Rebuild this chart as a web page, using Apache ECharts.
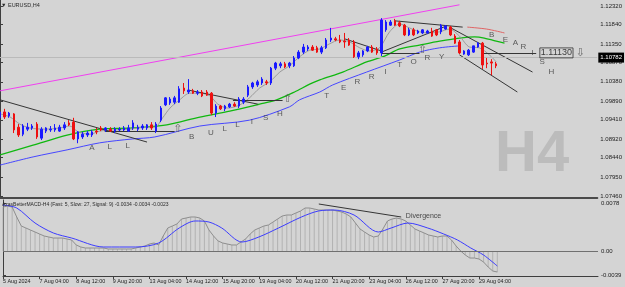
<!DOCTYPE html>
<html>
<head>
<meta charset="utf-8">
<script src="https://cdn.jsdelivr.net/npm/echarts@6.0.0/dist/echarts.min.js"></script>
<style>
html, body { margin: 0; padding: 0; background: #d4d4d4; }
#chart { width: 625px; height: 287px; }
</style>
</head>
<body>
<div id="chart"></div>
<script>
// EURUSD H4 candles, one per bar (bar 0 = 5 Aug 20:00)
const opens = [
  1.0946, 1.0961, 1.0951, 1.0956, 1.0922, 1.0904, 1.0917, 1.0920, 1.0930, 1.0894,
  1.0912, 1.0915, 1.0915, 1.0912, 1.0920, 1.0933, 1.0935, 1.0892, 1.0897, 1.0902,
  1.0902, 1.0912, 1.0920, 1.0915, 1.0917, 1.0912, 1.0915, 1.0915, 1.0912, 1.0920,
  1.0917, 1.0920, 1.0920, 1.0928, 1.0912, 1.0940, 1.0979, 1.0984, 1.0986, 1.0986,
  1.1022, 1.1012, 1.1015, 1.1009, 1.1012, 1.1012, 1.1009, 1.0958, 1.0976, 1.0969,
  1.0974, 1.0981, 1.0976, 1.0986, 1.1004, 1.1025, 1.1030, 1.1035, 1.1038, 1.1035,
  1.1073, 1.1079, 1.1084, 1.1079, 1.1079, 1.1099, 1.1114, 1.1122, 1.1127, 1.1125,
  1.1114, 1.1125, 1.1145, 1.1148, 1.1145, 1.1142, 1.1145, 1.1140, 1.1102, 1.1107,
  1.1117, 1.1127, 1.1122, 1.1112, 1.1171, 1.1183, 1.1194, 1.1189, 1.1183, 1.1158,
  1.1171, 1.1163, 1.1163, 1.1163, 1.1168, 1.1171, 1.1166, 1.1173, 1.1178, 1.1155,
  1.1140, 1.1109, 1.1107, 1.1114, 1.1127, 1.1137, 1.1086, 1.1089, 1.1084
];
const highs = [
  1.0966, 1.0969, 1.0961, 1.0958, 1.0930, 1.0930, 1.0933, 1.0930, 1.0935, 1.0922,
  1.0922, 1.0925, 1.0930, 1.0928, 1.0935, 1.0940, 1.0946, 1.0912, 1.0910, 1.0912,
  1.0915, 1.0920, 1.0925, 1.0922, 1.0922, 1.0922, 1.0922, 1.0925, 1.0928, 1.0940,
  1.0928, 1.0930, 1.0930, 1.0935, 1.0935, 1.0976, 1.0999, 1.0999, 1.1002, 1.1027,
  1.1035, 1.1045, 1.1020, 1.1017, 1.1017, 1.1017, 1.1012, 1.0981, 1.0979, 1.0979,
  1.0984, 1.0986, 1.0999, 1.0999, 1.1030, 1.1038, 1.1043, 1.1050, 1.1043, 1.1076,
  1.1089, 1.1089, 1.1089, 1.1089, 1.1104, 1.1119, 1.1135, 1.1132, 1.1132, 1.1130,
  1.1130, 1.1150, 1.1176, 1.1153, 1.1158, 1.1163, 1.1150, 1.1145, 1.1117, 1.1119,
  1.1130, 1.1132, 1.1127, 1.1201, 1.1196, 1.1196, 1.1199, 1.1194, 1.1186, 1.1176,
  1.1176, 1.1171, 1.1173, 1.1171, 1.1176, 1.1173, 1.1186, 1.1183, 1.1181, 1.1160,
  1.1145, 1.1119, 1.1122, 1.1130, 1.1140, 1.1140, 1.1099, 1.1096, 1.1089
];
const lows = [
  1.0940, 1.0943, 1.0946, 1.0907, 1.0897, 1.0899, 1.0912, 1.0915, 1.0892, 1.0889,
  1.0907, 1.0910, 1.0910, 1.0910, 1.0915, 1.0925, 1.0889, 1.0881, 1.0892, 1.0897,
  1.0897, 1.0904, 1.0912, 1.0910, 1.0910, 1.0907, 1.0912, 1.0912, 1.0910, 1.0915,
  1.0912, 1.0915, 1.0915, 1.0915, 1.0907, 1.0935, 1.0976, 1.0979, 1.0981, 1.0984,
  1.1007, 1.1007, 1.1007, 1.1004, 1.0999, 1.1002, 1.0953, 1.0948, 1.0966, 1.0963,
  1.0971, 1.0974, 1.0971, 1.0981, 1.0999, 1.1020, 1.1025, 1.1030, 1.1030, 1.1030,
  1.1068, 1.1073, 1.1073, 1.1073, 1.1076, 1.1096, 1.1109, 1.1117, 1.1117, 1.1112,
  1.1109, 1.1122, 1.1140, 1.1142, 1.1137, 1.1125, 1.1130, 1.1099, 1.1096, 1.1102,
  1.1114, 1.1112, 1.1107, 1.1104, 1.1166, 1.1181, 1.1181, 1.1178, 1.1155, 1.1155,
  1.1155, 1.1160, 1.1160, 1.1160, 1.1153, 1.1155, 1.1160, 1.1171, 1.1155, 1.1135,
  1.1109, 1.1107, 1.1104, 1.1112, 1.1125, 1.1071, 1.1073, 1.1055, 1.1073
];
const closes = [
  1.0961, 1.0948, 1.0958, 1.0915, 1.0902, 1.0925, 1.0922, 1.0925, 1.0897, 1.0917,
  1.0920, 1.0917, 1.0920, 1.0922, 1.0928, 1.0928, 1.0892, 1.0910, 1.0904, 1.0907,
  1.0910, 1.0910, 1.0915, 1.0920, 1.0912, 1.0917, 1.0917, 1.0920, 1.0920, 1.0933,
  1.0922, 1.0925, 1.0928, 1.0920, 1.0930, 1.0971, 1.0997, 1.0994, 1.0997, 1.1020,
  1.1015, 1.1017, 1.1009, 1.1012, 1.1002, 1.1004, 1.0958, 1.0976, 1.0969, 1.0976,
  1.0981, 1.0976, 1.0994, 1.0994, 1.1025, 1.1035, 1.1038, 1.1045, 1.1035, 1.1073,
  1.1086, 1.1084, 1.1076, 1.1086, 1.1099, 1.1114, 1.1127, 1.1127, 1.1119, 1.1114,
  1.1125, 1.1145, 1.1150, 1.1145, 1.1140, 1.1140, 1.1132, 1.1102, 1.1112, 1.1117,
  1.1127, 1.1114, 1.1112, 1.1196, 1.1191, 1.1191, 1.1183, 1.1181, 1.1158, 1.1171,
  1.1158, 1.1168, 1.1171, 1.1168, 1.1155, 1.1158, 1.1183, 1.1181, 1.1158, 1.1137,
  1.1112, 1.1117, 1.1119, 1.1130, 1.1137, 1.1081, 1.1084, 1.1086, 1.1079
];

// indicator lines as [bar, price]
const fastMa = [
  [0, 1.0956], [2.2, 1.0948], [4.3, 1.0930], [6.5, 1.0920], [9.8, 1.0917], [13, 1.0920],
  [15.2, 1.0925], [17, 1.0910], [19.6, 1.0904], [21.7, 1.0912], [25, 1.0915], [28.3, 1.0917],
  [31.5, 1.0922], [33.7, 1.0922], [35.4, 1.0946], [37, 1.0971], [39.1, 1.0992], [41.3, 1.1009],
  [43.5, 1.1009], [45.7, 1.1002], [47.4, 1.0981], [49.6, 1.0971], [52.2, 1.0979], [54.3, 1.0997],
  [56.5, 1.1022], [58.7, 1.1038], [60.9, 1.1063], [63, 1.1079], [65.2, 1.1102], [67.4, 1.1119],
  [69.6, 1.1122], [71.7, 1.1135], [73.9, 1.1145], [76.1, 1.1140], [78.3, 1.1125], [80.4, 1.1117],
  [82.6, 1.1125], [84.8, 1.1166], [87, 1.1186], [89.1, 1.1176], [91.3, 1.1166], [93.5, 1.1163],
  [95.7, 1.1166], [97.8, 1.1173], [100, 1.1155], [102.2, 1.1127], [104.3, 1.1125], [106.5, 1.1107],
  [108, 1.1089]
];
const greenMa = [
  [0, 1.0851], [7.2, 1.0876], [14.6, 1.0902], [21.7, 1.0917], [28.9, 1.0920], [36.3, 1.0928],
  [43.5, 1.0948], [50, 1.0963], [56.5, 1.0981], [60.2, 1.0992], [64.1, 1.1012], [67.4, 1.1032],
  [69.6, 1.1043], [74.6, 1.1063], [79.8, 1.1089], [83.7, 1.1104], [87, 1.1122], [91.3, 1.1132],
  [95.7, 1.1142], [100, 1.1150], [103.3, 1.1153], [105.4, 1.1150], [108.7, 1.1140], [109.8, 1.1137]
];
const blueMa = [
  [0, 1.0825], [7.2, 1.0846], [14.6, 1.0864], [21.7, 1.0882], [28.9, 1.0892], [33.7, 1.0897],
  [43.5, 1.0925], [54.3, 1.0940], [63, 1.0974], [65.2, 1.0992], [69.6, 1.1012], [72.4, 1.1030],
  [79.8, 1.1063], [87, 1.1094], [91.3, 1.1114], [95.7, 1.1125], [100, 1.1130]
];
const redMa = [[101.7, 1.1178], [105.9, 1.1173], [109.8, 1.1163]];
const channelTop = [[0, 1.1015], [100, 1.1235]];

const trendLines = [
  [[0, 1.0992], [32, 1.0884]],
  [[22.8, 1.0912], [38, 1.0912]],
  [[40.9, 1.1017], [56.1, 1.0981]],
  [[50.7, 1.0992], [61.5, 1.0992]],
  [[75, 1.1148], [83, 1.1117]],
  [[83, 1.1114], [97.2, 1.1181]],
  [[83, 1.1112], [91.3, 1.1112]],
  [[85.9, 1.1194], [100.7, 1.1178]],
  [[97.8, 1.1178], [115.9, 1.1063]],
  [[100, 1.1107], [112.6, 1.1012]],
  [[105, 1.1112], [116.7, 1.1112]]
];

const letters = [
  [20, 1.0869, 'A'], [23.9, 1.0871, 'L'], [27.8, 1.0874, 'L'],
  [41.7, 1.0897, 'B'], [45.9, 1.0907, 'U'], [48.9, 1.0917, 'L'], [51.7, 1.0928, 'L'],
  [54.8, 1.0935, 'I'], [57.8, 1.0946, 'S'], [60.9, 1.0956, 'H'],
  [71.1, 1.1002, 'T'], [74.8, 1.1022, 'E'], [77.8, 1.1038, 'R'], [80.9, 1.1050, 'R'],
  [83.9, 1.1063, 'I'], [87, 1.1081, 'T'], [90, 1.1089, 'O'], [93, 1.1099, 'R'], [96.1, 1.1102, 'Y'],
  [107, 1.1158, 'B'], [110, 1.1145, 'E'], [112.2, 1.1137, 'A'], [113.9, 1.1127, 'R'],
  [115.9, 1.1112, 'I'], [118, 1.1089, 'S'], [120, 1.1063, 'H']
];
const arrows = [[38.7, 1.0917, '⇧'], [62.6, 1.0994, '⇧'], [92, 1.1119, '⇧'], [126.3, 1.1112, '⇩']];
const targetBox = [121.1, 1.1112, '1.11130'];
const bidPrice = 1.10782;

// MACD pane: histogram / main line per bar, signal read as [bar, value]
const macd = [
  0.00715, 0.00731, 0.00715, 0.00553, 0.00406, 0.00374, 0.00341, 0.00309, 0.00276, 0.00244,
  0.00228, 0.00211, 0.00211, 0.00211, 0.00195, 0.00179, 0.00098, 0.00065, 0.00049, 0.00049,
  0.00049, 0.00049, 0.00049, 0.00033, 0.00033, 0.00033, 0.00033, 0.00033, 0.00033, 0.00049,
  0.00065, 0.00081, 0.00114, 0.00130, 0.00098, 0.00244, 0.00374, 0.00406, 0.00439, 0.00520,
  0.00536, 0.00553, 0.00553, 0.00536, 0.00488, 0.00341, 0.00244, 0.00163, 0.00130, 0.00114,
  0.00098, 0.00098, 0.00146, 0.00195, 0.00276, 0.00341, 0.00374, 0.00406, 0.00423, 0.00471,
  0.00520, 0.00569, 0.00585, 0.00585, 0.00618, 0.00650, 0.00699, 0.00699, 0.00683, 0.00666,
  0.00666, 0.00666, 0.00666, 0.00650, 0.00634, 0.00601, 0.00553, 0.00455, 0.00358, 0.00309,
  0.00260, 0.00228, 0.00244, 0.00358, 0.00488, 0.00520, 0.00536, 0.00520, 0.00488, 0.00423,
  0.00358, 0.00325, 0.00293, 0.00260, 0.00244, 0.00228, 0.00244, 0.00244, 0.00179, 0.00081,
  0, -0.00065, -0.00114, -0.00114, -0.00130, -0.00179, -0.00260, -0.00325, -0.00341
];
const signal = [
  [0, 0.00748], [3, 0.00699], [7, 0.00455], [11, 0.00293], [15, 0.00211], [22, 0.00065],
  [29, 0.00065], [34, 0.00130], [38.5, 0.00374], [42, 0.00488], [45, 0.00471], [47.8, 0.00374],
  [52.2, 0.00146], [55.9, 0.00228], [60.2, 0.00374], [65.2, 0.00553], [68.9, 0.00650],
  [72.4, 0.00666], [76.7, 0.00585], [82, 0.00309], [84.8, 0.00374], [88.5, 0.00455],
  [92.8, 0.00374], [96.3, 0.00276], [99.3, 0.00179], [102.2, 0.00049], [105, -0.00065], [108, -0.00244]
];
const divergenceLine = [[69, 0.00764], [87, 0.00553]];
const divergenceNote = [87.8, 0.00569, 'Divergence'];

const priceTicks = [1.0746, 1.0795, 1.0844, 1.0892, 1.0941, 1.0989, 1.1038, 1.1087, 1.1135, 1.1184, 1.1232];
const macdTicks = [-0.0039, 0, 0.0078];
const dateTickBars = [0, 8, 16, 24, 32, 40, 48, 56, 64, 72, 80, 88, 96, 104];
const dateLabels = [
  '5 Aug 2024', '7 Aug 04:00', '8 Aug 12:00', '9 Aug 20:00', '13 Aug 04:00', '14 Aug 12:00',
  '15 Aug 20:00', '19 Aug 04:00', '20 Aug 12:00', '21 Aug 20:00', '23 Aug 04:00',
  '26 Aug 12:00', '27 Aug 20:00', '29 Aug 04:00'
];

const FONT = '"Liberation Sans", Arial, sans-serif';
const AXIS_COLOR = '#3e3e3e';

const chart = echarts.init(document.getElementById('chart'));

function textSeries(items, label, xAxisIndex = 0, yAxisIndex = 0) {
  return {
    type: 'scatter',
    xAxisIndex,
    yAxisIndex,
    symbolSize: 0,
    silent: true,
    z: 6,
    data: items.map((t) => ({ value: [t[0], t[1]], name: t[2] })),
    label: Object.assign({ show: true, position: 'inside', formatter: '{b}' }, label)
  };
}

chart.setOption({
  animation: false,
  backgroundColor: '#d4d4d4',
  grid: [
    { left: 0, right: 27, top: 0, height: 198 },
    { left: 0, right: 27, top: 200, height: 76 }
  ],
  xAxis: [
    {
      type: 'value', gridIndex: 0, min: 0, max: 130,
      axisLine: { show: true, onZero: false, lineStyle: { color: '#4a4a4a', width: 2 } },
      axisTick: { show: false }, axisLabel: { show: false }, splitLine: { show: false }
    },
    {
      type: 'value', gridIndex: 1, min: 0, max: 130,
      axisLine: { show: true, onZero: false, lineStyle: { color: AXIS_COLOR } },
      axisTick: { show: true, customValues: dateTickBars, length: 3, lineStyle: { color: AXIS_COLOR } },
      axisLabel: {
        customValues: dateTickBars,
        formatter: (v) => dateLabels[dateTickBars.indexOf(Math.round(v))] ?? '',
        align: 'left', margin: 3, fontSize: 5.4, color: '#222', fontFamily: FONT
      },
      splitLine: { show: false }
    }
  ],
  yAxis: [
    {
      type: 'value', gridIndex: 0, position: 'right', min: 1.07409, max: 1.12473,
      axisLine: { show: true, lineStyle: { color: AXIS_COLOR } },
      axisTick: { show: true, customValues: priceTicks, length: 3, lineStyle: { color: AXIS_COLOR } },
      axisLabel: {
        customValues: priceTicks, formatter: (v) => v.toFixed(5),
        margin: 3, fontSize: 6, color: '#222', fontFamily: FONT
      },
      splitLine: { show: false }
    },
    {
      type: 'value', gridIndex: 1, position: 'right', min: -0.00406, max: 0.00829,
      axisLine: { show: true, lineStyle: { color: AXIS_COLOR } },
      axisTick: { show: true, customValues: macdTicks, length: 3, lineStyle: { color: AXIS_COLOR } },
      axisLabel: {
        customValues: macdTicks, formatter: (v) => (v === 0 ? '0.00' : v.toFixed(4)),
        margin: 3, fontSize: 6, color: '#222', fontFamily: FONT
      },
      splitLine: { show: false }
    }
  ],
  graphic: [
    {
      type: 'text', left: 495, top: 126, z: 0, silent: true,
      style: { text: 'H4', font: 'bold 58px ' + FONT, fill: '#bcbcbc' }
    },
    {
      type: 'text', left: 1, top: 2, z: 10, silent: true,
      style: { text: '▼ EURUSD,H4', font: '5.5px ' + FONT, fill: '#2a2a2a' }
    },
    {
      type: 'text', left: 2, top: 202, z: 10, silent: true,
      style: {
        text: 'AzasBetterMACD-H4 (Fast: 5, Slow: 27, Signal: 9) -0.0034 -0.0034 -0.0023',
        font: '5px ' + FONT, fill: '#2a2a2a'
      }
    }
  ],
  series: [
    {
      type: 'line', data: channelTop, symbol: 'none', silent: true,
      lineStyle: { color: '#f040f0', width: 1 }
    },
    {
      type: 'line', data: greenMa, symbol: 'none', smooth: 0.3, silent: true,
      lineStyle: { color: '#10b810', width: 1.3 }
    },
    {
      type: 'line', data: blueMa, symbol: 'none', smooth: 0.3, silent: true,
      lineStyle: { color: '#4646ff', width: 1 }
    },
    {
      type: 'line', data: redMa, symbol: 'none', smooth: 0.3, silent: true,
      lineStyle: { color: '#e06464', width: 1 }
    },
    {
      type: 'line', data: fastMa, symbol: 'none', smooth: 0.3, silent: true,
      lineStyle: { color: '#9a9a9a', width: 1 }
    },
    {
      type: 'lines', coordinateSystem: 'cartesian2d', silent: true, z: 4,
      data: trendLines.map((coords) => ({ coords })),
      lineStyle: { color: '#353535', width: 1, opacity: 1 }
    },
    {
      type: 'candlestick', silent: true, z: 5,
      barWidth: 2,
      encode: { x: 0, y: [1, 2, 3, 4] },
      data: opens.map((o, i) => [i, o, closes[i], lows[i], highs[i]]),
      itemStyle: {
        color: '#1a1aff', color0: '#ee1010',
        borderColor: '#1a1aff', borderColor0: '#ee1010', borderWidth: 1
      },
      markLine: {
        silent: true, symbol: ['none', 'none'],
        data: [{ yAxis: bidPrice }],
        lineStyle: { color: '#bababa', type: 'solid', width: 1 },
        label: {
          position: 'end', distance: 1, formatter: bidPrice.toFixed(5),
          backgroundColor: '#000', color: '#fff', fontSize: 6, padding: [2, 2], fontFamily: FONT
        }
      }
    },
    textSeries(letters, { fontSize: 8, color: '#3a3a3a', fontFamily: FONT }),
    textSeries(arrows, { fontSize: 11, color: '#505050', fontFamily: '"DejaVu Sans"' }),
    textSeries([targetBox], {
      fontSize: 9, color: '#111', fontFamily: FONT,
      borderColor: '#333', borderWidth: 1, padding: [1, 1, 0, 1]
    }),
    {
      type: 'bar', xAxisIndex: 1, yAxisIndex: 1, silent: true, barWidth: 1,
      data: macd.map((v, i) => [i, v]),
      itemStyle: { color: '#b2b2b2' },
      markLine: {
        silent: true, symbol: ['none', 'none'],
        data: [{ yAxis: 0 }],
        lineStyle: { color: '#707070', type: 'solid', width: 1 },
        label: { show: false }
      }
    },
    {
      type: 'line', xAxisIndex: 1, yAxisIndex: 1, symbol: 'none', silent: true,
      data: macd.map((v, i) => [i, v]),
      lineStyle: { color: '#8e8e8e', width: 1 }
    },
    {
      type: 'line', xAxisIndex: 1, yAxisIndex: 1, symbol: 'none', smooth: 0.3, silent: true,
      data: signal,
      lineStyle: { color: '#3c3cff', width: 1 }
    },
    {
      type: 'lines', coordinateSystem: 'cartesian2d', xAxisIndex: 1, yAxisIndex: 1, silent: true,
      data: [{ coords: divergenceLine }],
      lineStyle: { color: '#353535', width: 1, opacity: 1 }
    },
    textSeries([divergenceNote], {
      position: 'right', distance: 1, fontSize: 7, color: '#222', fontFamily: FONT
    }, 1, 1)
  ]
});

window.addEventListener('resize', () => chart.resize());
</script>
</body>
</html>
